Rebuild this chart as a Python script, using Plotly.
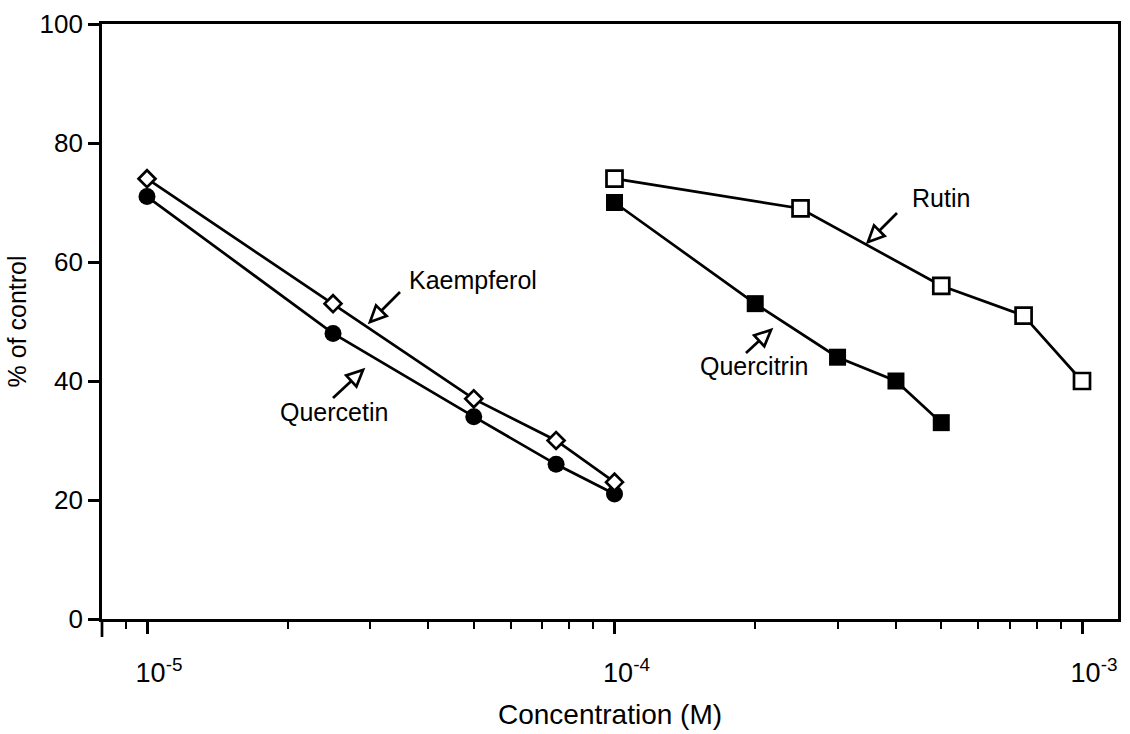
import math
import plotly.graph_objects as go

# ---------------- data ----------------
conc_flavonols = [1e-5, 2.5e-5, 5e-5, 7.5e-5, 1e-4]
kaempferol = [74, 53, 37, 30, 23]
quercetin = [71, 48, 34, 26, 21]

conc_quercitrin = [1e-4, 2e-4, 3e-4, 4e-4, 5e-4]
quercitrin = [70, 53, 44, 40, 33]

conc_rutin = [1e-4, 2.5e-4, 5e-4, 7.5e-4, 1e-3]
rutin = [74, 69, 56, 51, 40]

x_tickvals = [1e-5, 1e-4, 1e-3]
x_ticktext = ["10<sup>-5</sup>", "10<sup>-4</sup>", "10<sup>-3</sup>"]
x_minor = [m * 10.0 ** e for e in (-6, -5, -4) for m in range(2, 10)]
x_minor = [v for v in x_minor if 8e-6 < v < 1.2e-3 and v not in x_tickvals]
y_tickvals = [0, 20, 40, 60, 80, 100]

# ---------------- layout geometry (pixels) ----------------
W, H = 1130, 734
L, R, T, B = 102, 1118, 24, 619
FONT = "Liberation Sans, Arial, Helvetica, sans-serif"

def px(xp):
    return (xp - L) / (R - L)

def py(yp):
    return (B - yp) / (B - T)

fig = go.Figure()

line_style = dict(color="black", width=2.7)
fig.add_trace(go.Scatter(x=conc_flavonols, y=quercetin, mode="lines+markers",
                         name="Quercetin", line=line_style,
                         marker=dict(symbol="circle", size=17, color="black")))
fig.add_trace(go.Scatter(x=conc_flavonols, y=kaempferol, mode="lines+markers",
                         name="Kaempferol", line=line_style,
                         marker=dict(symbol="diamond", size=13, color="white",
                                     line=dict(color="black", width=2.7))))
fig.add_trace(go.Scatter(x=conc_quercitrin, y=quercitrin, mode="lines+markers",
                         name="Quercitrin", line=line_style,
                         marker=dict(symbol="square", size=17, color="black")))
fig.add_trace(go.Scatter(x=conc_rutin, y=rutin, mode="lines+markers",
                         name="Rutin", line=line_style,
                         marker=dict(symbol="square", size=16, color="white",
                                     line=dict(color="black", width=2.7))))

# ---------------- labels with hollow arrows ----------------
labels = [
    # text, text center (px), arrow tail (px), arrow tip (px)
    ("Kaempferol", (473, 280), (400, 292), (370, 322)),
    ("Quercetin", (334, 412), (333, 398), (363, 370)),
    ("Rutin", (941, 198), (897, 213), (868, 242)),
    ("Quercitrin", (754, 366), (746, 353), (771, 330)),
]

shapes = []
annotations = []
for text, (tx, ty), (ax, ay), (bx, by) in labels:
    annotations.append(dict(text=text, x=px(tx), y=py(ty), xref="paper", yref="paper",
                            showarrow=False, xanchor="center", yanchor="middle",
                            font=dict(family=FONT, size=25, color="black")))
    dx, dy = bx - ax, by - ay
    d = math.hypot(dx, dy)
    ux, uy = dx / d, dy / d
    hl, hw = 16, 7.5
    cx, cy = bx - ux * hl, by - uy * hl
    nx, ny = -uy, ux
    shapes.append(dict(type="line", xref="paper", yref="paper",
                       x0=px(ax), y0=py(ay), x1=px(cx), y1=py(cy),
                       line=dict(color="black", width=2.7)))
    path = "M {:.5f},{:.5f} L {:.5f},{:.5f} L {:.5f},{:.5f} Z".format(
        px(bx), py(by), px(cx + nx * hw), py(cy + ny * hw), px(cx - nx * hw), py(cy - ny * hw))
    shapes.append(dict(type="path", xref="paper", yref="paper", path=path,
                       fillcolor="white", line=dict(color="black", width=2.7)))

# y axis line extends a little below the x axis
shapes.append(dict(type="line", xref="paper", yref="paper",
                   x0=0, x1=0, y0=0, y1=py(637), line=dict(color="black", width=2.7)))

xr0 = -5 - (147 - L) / 467.5
xr1 = -3 + (R - 1082) / 467.5

fig.update_layout(
    width=W, height=H,
    margin=dict(l=L, r=W - R, t=T, b=H - B, autoexpand=False),
    paper_bgcolor="white", plot_bgcolor="white",
    showlegend=False,
    font=dict(family=FONT, size=26, color="black"),
    shapes=shapes, annotations=annotations,
    xaxis=dict(type="log", range=[xr0, xr1], automargin=False,
               tickmode="array", tickvals=x_tickvals, ticktext=x_ticktext,
               ticks="outside", ticklen=12, tickwidth=2.7, tickcolor="black",
               ticklabelshift=12, ticklabelstandoff=16,
               minor=dict(tickmode="array", tickvals=x_minor, ticks="outside",
                          ticklen=7, tickwidth=2, tickcolor="black", showgrid=False),
               showline=True, linecolor="black", linewidth=2.7, mirror=True,
               showgrid=False, zeroline=False,
               tickfont=dict(family=FONT, size=27),
               title=dict(text="Concentration (M)", font=dict(family=FONT, size=28), standoff=18)),
    yaxis=dict(range=[0, 100], automargin=False, tickmode="array", tickvals=y_tickvals,
               ticks="outside", ticklen=11, tickwidth=2.7, tickcolor="black",
               showline=True, linecolor="black", linewidth=2.7, mirror=True,
               showgrid=False, zeroline=False,
               tickfont=dict(family=FONT, size=26),
               title=dict(text="% of control", font=dict(family=FONT, size=25), standoff=6)),
)

fig.write_html("out.html")
